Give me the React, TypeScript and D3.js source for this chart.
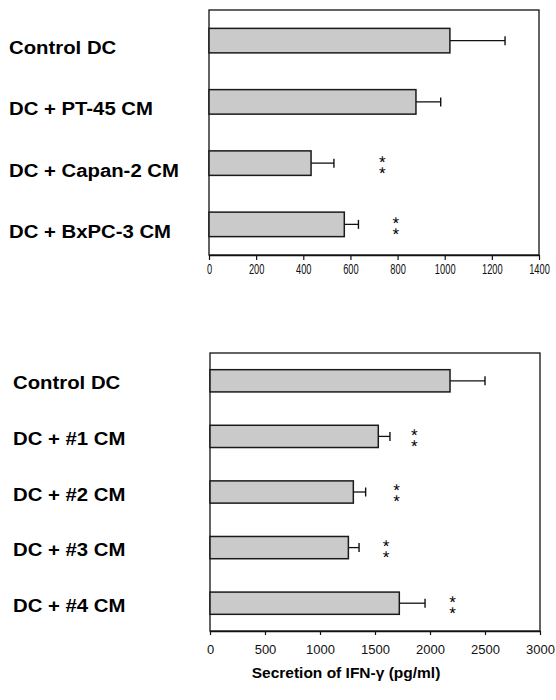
import React, { useEffect, useRef } from "react";
import * as d3 from "d3";

const width = 556;
const height = 700;

// panel A: conditioned media from pancreatic cell lines
const labelsA = ["Control DC", "DC + PT-45 CM", "DC + Capan-2 CM", "DC + BxPC-3 CM"];
const meansA = [1022, 878, 433, 574];
const errorsA = [234, 105, 97, 60];
const starsA = [null, null, 735, 793];
const ticksA = [0, 200, 400, 600, 800, 1000, 1200, 1400];

// panel B: conditioned media from primary cultures
const labelsB = ["Control DC", "DC + #1 CM", "DC + #2 CM", "DC + #3 CM", "DC + #4 CM"];
const meansB = [2182, 1530, 1303, 1258, 1721];
const errorsB = [318, 106, 112, 97, 234];
const starsB = [null, 1857, 1697, 1600, 2206];
const ticksB = [0, 500, 1000, 1500, 2000, 2500, 3000];

const axisTitle = "Secretion of IFN-\u03b3 (pg/ml)";

type PanelProps = {
  labels: string[];
  means: number[];
  errors: number[];
  stars: (number | null)[];
  ticks: number[];
  box: { left: number; right: number; top: number; bottom: number };
  labelX: number;
  labelDy: number;
  narrowTicks: boolean;
};

function Panel(props: PanelProps) {
  const { labels, means, errors, stars, ticks, box, labelX, labelDy, narrowTicks } = props;
  const axisRef = useRef<SVGGElement>(null);

  const x = d3
    .scaleLinear()
    .domain([ticks[0], ticks[ticks.length - 1]])
    .range([box.left, box.right]);
  const y = d3
    .scaleBand<string>()
    .domain(labels)
    .range([box.top, box.bottom])
    .paddingInner(0.6)
    .paddingOuter(0.3);

  useEffect(() => {
    const axis = d3
      .axisBottom(x)
      .tickValues(ticks)
      .tickSizeInner(narrowTicks ? 5 : 4)
      .tickSizeOuter(0)
      .tickPadding(narrowTicks ? 3 : 10)
      .tickFormat(d3.format("d"));
    const g = d3.select(axisRef.current);
    g.call(axis as any);
    g.select(".domain").attr("stroke", "#111").attr("stroke-width", 1.4);
    g.selectAll(".tick line").attr("stroke", "#111").attr("stroke-width", 1.2);
    g.selectAll(".tick text")
      .attr("fill", "#111")
      .attr("font-family", "Liberation Sans, Arial, sans-serif")
      .attr("font-size", narrowTicks ? 15 : 13)
      .attr("transform", narrowTicks ? "scale(0.62,1)" : null);
  }, []);

  const bh = y.bandwidth();

  return (
    <g>
      <rect
        x={box.left}
        y={box.top}
        width={box.right - box.left}
        height={box.bottom - box.top}
        fill="none"
        stroke="#111"
        strokeWidth={1.3}
      />
      {labels.map((lab, i) => {
        const cy = (y(lab) as number) + bh / 2;
        return (
          <g key={lab}>
            <line
              x1={x(means[i])}
              x2={x(means[i] + errors[i])}
              y1={cy}
              y2={cy}
              stroke="#111"
              strokeWidth={1.3}
            />
            <line
              x1={x(means[i] + errors[i])}
              x2={x(means[i] + errors[i])}
              y1={cy - 4.5}
              y2={cy + 4.5}
              stroke="#111"
              strokeWidth={1.4}
            />
            <rect
              x={x(0)}
              y={y(lab)}
              width={x(means[i]) - x(0)}
              height={bh}
              fill="#cacaca"
              stroke="#1a1a1a"
              strokeWidth={1.5}
            />
            {stars[i] != null && (
              <text
                fontFamily="Liberation Sans, Arial, sans-serif"
                fontSize={17}
                fill="#000"
                textAnchor="middle"
                style={{ textRendering: "geometricPrecision" }}
              >
                <tspan x={x(stars[i] as number)} y={cy + 4.4}>*</tspan>
                <tspan x={x(stars[i] as number)} y={cy + 15.4}>*</tspan>
              </text>
            )}
            <text
              transform={`translate(${labelX},${cy + labelDy}) scale(1.13,1)`}
              fontFamily="Liberation Sans, Arial, sans-serif"
              fontWeight="bold"
              fontSize={18}
              fill="#000"
            >
              {lab}
            </text>
          </g>
        );
      })}
      <g ref={axisRef} transform={`translate(0,${box.bottom})`} />
    </g>
  );
}

export default function App() {
  return (
    <svg
      width={width}
      height={height}
      style={{ position: "absolute", left: 0, top: 0, background: "#fff" }}
    >
      <rect width={width} height={height} fill="#fff" />
      <Panel
        labels={labelsA}
        means={meansA}
        errors={errorsA}
        stars={starsA}
        ticks={ticksA}
        box={{ left: 209, right: 539, top: 10, bottom: 255 }}
        labelX={9}
        labelDy={13.5}
        narrowTicks={true}
      />
      <Panel
        labels={labelsB}
        means={meansB}
        errors={errorsB}
        stars={starsB}
        ticks={ticksB}
        box={{ left: 210, right: 540, top: 353, bottom: 631 }}
        labelX={13}
        labelDy={8.5}
        narrowTicks={false}
      />
      <text
        x={346}
        y={678}
        textAnchor="middle"
        fontFamily="Liberation Sans, Arial, sans-serif"
        fontWeight="bold"
        fontSize={15.5}
        fill="#000"
      >
        {axisTitle}
      </text>
    </svg>
  );
}
